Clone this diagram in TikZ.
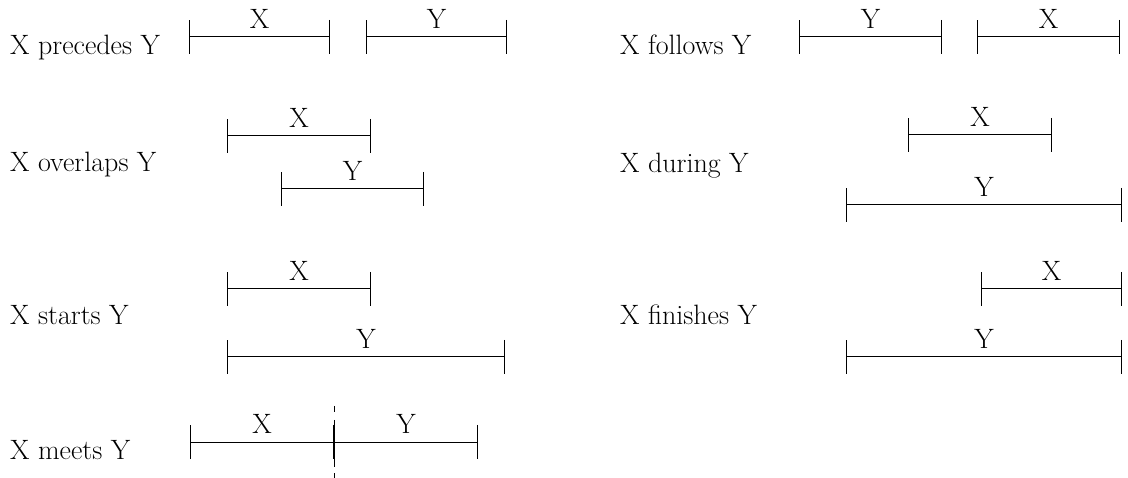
\documentclass[tikz,border=0pt]{standalone}
\usepackage{tikz}
\usetikzlibrary{calc}
\usetikzlibrary{arrows.meta}

\tikzset{
  interval/.style={line width=1pt, {Bar[width=34pt]}-{Bar[width=34pt]}},
  lbl/.style={above=8pt, inner sep=0pt},
  relname/.style={anchor=base west, inner sep=0pt}
}

\begin{document}
\begin{tikzpicture}[x=1pt, y=-1pt, font=\fontsize{28pt}{32pt}\selectfont]
\useasboundingbox (0,0) rectangle (1128,478);

% precedes
\node[relname] (precedes) at (10,55) {X precedes Y};
\coordinate (PXa) at (189,37); \coordinate (PXb) at (330,37);
\coordinate (PYa) at (366,37); \coordinate (PYb) at (507,37);
\draw[interval] (PXa) -- node[lbl] (PX) {X} (PXb);
\draw[interval] (PYa) -- node[lbl] (PY) {Y} (PYb);

% follows
\node[relname] (follows) at (620,55) {X follows Y};
\coordinate (FYa) at (799,37); \coordinate (FYb) at (942,37);
\coordinate (FXa) at (977,37); \coordinate (FXb) at (1120,37);
\draw[interval] (FYa) -- node[lbl] (FY) {Y} (FYb);
\draw[interval] (FXa) -- node[lbl] (FX) {X} (FXb);

% overlaps
\node[relname] (overlaps) at (10,172) {X overlaps Y};
\coordinate (OXa) at (227,136); \coordinate (OXb) at (371,136);
\coordinate (OYa) at (281,189); \coordinate (OYb) at (424,189);
\draw[interval] (OXa) -- node[lbl] (OX) {X} (OXb);
\draw[interval] (OYa) -- node[lbl] (OY) {Y} (OYb);

% during
\node[relname] (during) at (620,173) {X during Y};
\coordinate (DXa) at (908,135); \coordinate (DXb) at (1052,135);
\coordinate (DYa) at (846,205); \coordinate (DYb) at (1122,205);
\draw[interval] (DXa) -- node[lbl] (DX) {X} (DXb);
\draw[interval] (DYa) -- node[lbl] (DY) {Y} (DYb);

% starts
\node[relname] (starts) at (10,325) {X starts Y};
\coordinate (SXa) at (227,289); \coordinate (SXb) at (371,289);
\coordinate (SYa) at (227,357); \coordinate (SYb) at (505,357);
\draw[interval] (SXa) -- node[lbl] (SX) {X} (SXb);
\draw[interval] (SYa) -- node[lbl] (SY) {Y} (SYb);

% finishes
\node[relname] (finishes) at (620,325) {X finishes Y};
\coordinate (NXa) at (981,289); \coordinate (NXb) at (1122,289);
\coordinate (NYa) at (846,357); \coordinate (NYb) at (1122,357);
\draw[interval] (NXa) -- node[lbl] (NX) {X} (NXb);
\draw[interval] (NYa) -- node[lbl] (NY) {Y} (NYb);

% meets
\node[relname] (meets) at (10,459) {X meets Y};
\coordinate (MXa) at (190,442); \coordinate (M) at (334,442);
\coordinate (MYb) at (478,442);
\coordinate (Mtop) at (334,406); \coordinate (Mbot) at (334,478);
\draw[interval] (MXa) -- node[lbl] (MX) {X} (M);
\draw[interval] (M) -- node[lbl] (MY) {Y} (MYb);
\draw[line width=1pt, dash pattern=on 6pt off 8pt on 47pt off 6pt on 6pt] (Mtop) -- (Mbot);

\end{tikzpicture}
\end{document}
